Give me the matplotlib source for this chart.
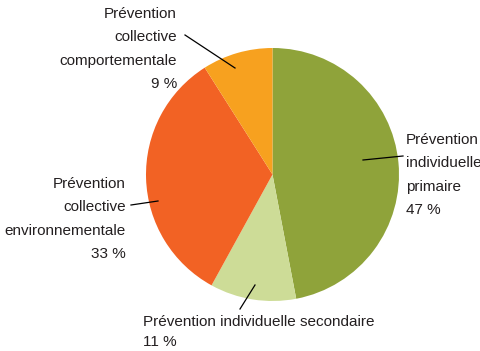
import matplotlib
matplotlib.use("Agg")
import matplotlib.pyplot as plt

# data
labels = ["Prévention\nindividuelle\nprimaire",
          "Prévention individuelle secondaire",
          "Prévention\ncollective\nenvironnementale",
          "Prévention\ncollective\ncomportementale"]
shares = [47, 11, 33, 9]
colors = ["#8fa33a", "#cddc97", "#f26224", "#f7a11f"]

W, H = 480, 351
plt.rcParams["font.family"] = ["Liberation Sans", "DejaVu Sans"]

fig = plt.figure(figsize=(W / 100, H / 100), dpi=100)
ax = fig.add_axes([0, 0, 1, 1])

# pie drawn in pixel-like coordinates (y measured from bottom)
cx, cy, r = 272.5, H - 174.5, 126.5
ax.pie(shares, colors=colors, startangle=90, counterclock=False,
       center=(cx, cy), radius=r, wedgeprops=dict(linewidth=0))

ax.set_xlim(0, W)
ax.set_ylim(0, H)
ax.set_aspect("equal")
ax.axis("off")


def y(v):
    return H - v


# label anchor: x, first line y, alignment
label_pos = [
    (406, 140, "left"),
    (143, 322, "left"),
    (126, 184, "right"),
    (177, 14, "right"),
]
leaders = [
    ((363, 160), (403, 156)),
    ((255, 285), (240, 309)),
    ((131, 205), (158, 201)),
    ((185, 35), (235, 68)),
]
fs = 11
step = 23.3
for lab, val, (lx, ly, ha), (p0, p1) in zip(labels, shares, label_pos, leaders):
    lines = lab.split("\n") + [f"{val} %"]
    step_i = 20.5 if len(lines) == 2 else step
    for i, line in enumerate(lines):
        ax.text(lx, y(ly + i * step_i), line, ha=ha, va="center",
                fontsize=fs, color="#231f20")
    ax.plot([p0[0], p1[0]], [y(p0[1]), y(p1[1])], color="black", lw=0.9)

fig.savefig("out.png", dpi=100)
